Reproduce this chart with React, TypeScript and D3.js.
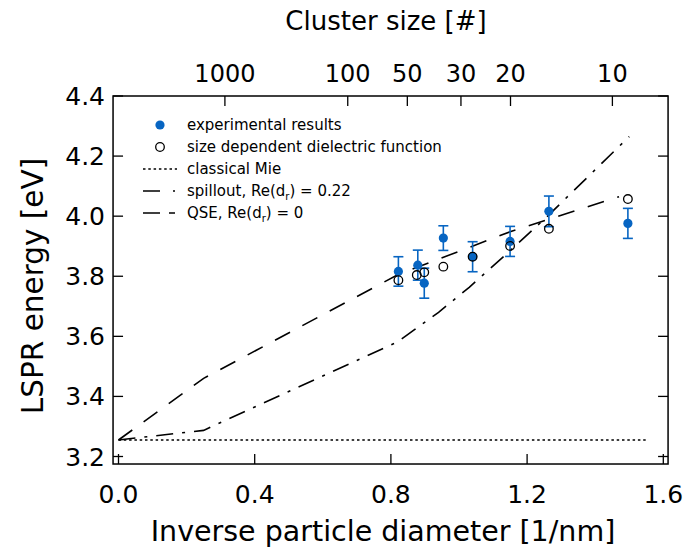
import React from 'react';
import * as d3 from 'd3';

// ---------- data ----------
const xTicks = [0, 0.4, 0.8, 1.2, 1.6];
const yTicks = [3.2, 3.4, 3.6, 3.8, 4.0, 4.2, 4.4];
const clusterTicks = [1000, 100, 50, 30, 20, 10];

const expX = [0.822, 0.879, 0.898, 0.954, 1.04, 1.15, 1.264, 1.496];
const expE = [3.816, 3.837, 3.777, 3.927, 3.865, 3.916, 4.016, 3.976];
const expErr = [0.049, 0.05, 0.05, 0.041, 0.05, 0.05, 0.051, 0.05];

const calcX = [0.822, 0.876, 0.898, 0.954, 1.04, 1.15, 1.264, 1.496];
const calcE = [3.787, 3.804, 3.813, 3.832, 3.865, 3.901, 3.958, 4.057];

const mieX = [0, 1.55];
const mieE = [3.255, 3.255];

const spillX = [0, 0.25, 0.82, 0.94, 1.03, 1.15, 1.26, 1.5];
const spillE = [3.255, 3.287, 3.582, 3.68, 3.763, 3.885, 4.0, 4.265];

const qseX = [0, 0.25, 0.82, 1.15, 1.47];
const qseE = [3.255, 3.46, 3.805, 3.948, 4.065];

const legendLabels = [
  'experimental results',
  'size dependent dielectric function',
  'classical Mie',
  'spillout, Re(d',
  'QSE, Re(d',
];

const BLUE = '#0765c2';
const FONT = '"DejaVu Sans", Verdana, sans-serif';

export default function App() {
  const W = 684, H = 557;
  const x = d3.scaleLinear().domain([0, 1.6]).range([118.5, 663.3]);
  const y = d3.scaleLinear().domain([3.2, 4.4]).range([456.5, 96]);
  const left = x(-0.016), right = x(1.614), top = y(4.4), bottom = y(3.175);
  const rWS = 0.16; // nm, Wigner-Seitz radius: d = 2 rWS N^(1/3)
  const nToX = (n: number) => 1 / (2 * rWS * Math.cbrt(n));
  const line = d3.line<[number, number]>().x(d => x(d[0])).y(d => y(d[1]));
  const zip = (a: number[], b: number[]) => a.map((v, i) => [v, b[i]] as [number, number]);
  const tl = 10;
  const fmt = d3.format('.1f');

  const legY = [125, 147, 169, 191, 213];
  const legX0 = 143, legTx = 187;

  return (
    <svg width={W} height={H} style={{ position: 'absolute', left: 0, top: 0, background: '#fff' }} fontFamily={FONT}>
      <rect x={0} y={0} width={W} height={H} fill="#fff" />
      {/* curves */}
      <path d={line(zip(mieX, mieE)) || ''} fill="none" stroke="#000" strokeWidth={1.5} strokeDasharray="2.5,2.8" />
      <path d={line(zip(spillX, spillE)) || ''} fill="none" stroke="#000" strokeWidth={1.6} strokeDasharray="17,9,3,9" />
      <path d={line(zip(qseX, qseE)) || ''} fill="none" stroke="#000" strokeWidth={1.6} strokeDasharray="17,14" />

      {/* error bars & experimental points */}
      {expX.map((v, i) => (
        <g key={'e' + i} stroke={BLUE} strokeWidth={1.6}>
          <line x1={x(v)} x2={x(v)} y1={y(expE[i] - expErr[i])} y2={y(expE[i] + expErr[i])} />
          <line x1={x(v) - 5} x2={x(v) + 5} y1={y(expE[i] - expErr[i])} y2={y(expE[i] - expErr[i])} />
          <line x1={x(v) - 5} x2={x(v) + 5} y1={y(expE[i] + expErr[i])} y2={y(expE[i] + expErr[i])} />
        </g>
      ))}
      {expX.map((v, i) => (
        <circle key={'p' + i} cx={x(v)} cy={y(expE[i])} r={4.6} fill={BLUE} stroke="none" />
      ))}
      {calcX.map((v, i) => (
        <circle key={'c' + i} cx={x(v)} cy={y(calcE[i])} r={4.3} fill="none" stroke="#000" strokeWidth={1.3} />
      ))}

      {/* frame */}
      <rect x={left} y={top} width={right - left} height={bottom - top} fill="none" stroke="#000" strokeWidth={1.5} />
      {yTicks.map(t => (
        <g key={'yt' + t} stroke="#000" strokeWidth={1.3}>
          <line x1={left} x2={left + tl} y1={y(t)} y2={y(t)} />
          <line x1={right} x2={right - tl} y1={y(t)} y2={y(t)} />
        </g>
      ))}
      {xTicks.map(t => (
        <line key={'xt' + t} x1={x(t)} x2={x(t)} y1={bottom} y2={bottom - tl} stroke="#000" strokeWidth={1.3} />
      ))}
      {clusterTicks.map(n => (
        <line key={'ct' + n} x1={x(nToX(n))} x2={x(nToX(n))} y1={top} y2={top + tl} stroke="#000" strokeWidth={1.3} />
      ))}

      {/* tick labels */}
      {yTicks.map(t => (
        <text key={'yl' + t} x={105} y={y(t) + 9} textAnchor="end" fontSize={25}>{fmt(t)}</text>
      ))}
      {xTicks.map(t => (
        <text key={'xl' + t} x={x(t)} y={503} textAnchor="middle" fontSize={25}>{fmt(t)}</text>
      ))}
      {clusterTicks.map(n => (
        <text key={'cl' + n} x={x(nToX(n))} y={82} textAnchor="middle" fontSize={24}>{n}</text>
      ))}

      {/* titles */}
      <text x={386} y={30} textAnchor="middle" fontSize={26}>Cluster size [#]</text>
      <text x={383} y={541} textAnchor="middle" fontSize={28.5}>Inverse particle diameter [1/nm]</text>
      <text transform={`translate(43,286) rotate(-90)`} textAnchor="middle" fontSize={29.5}>LSPR energy [eV]</text>

      {/* legend */}
      <circle cx={160} cy={legY[0]} r={4.6} fill={BLUE} />
      <circle cx={160} cy={legY[1]} r={4.3} fill="none" stroke="#000" strokeWidth={1.3} />
      <line x1={legX0} x2={177} y1={legY[2]} y2={legY[2]} stroke="#000" strokeWidth={1.5} strokeDasharray="2.5,2.8" />
      <line x1={legX0} x2={177} y1={legY[3]} y2={legY[3]} stroke="#000" strokeWidth={1.6} strokeDasharray="17,13,2,20" />
      <line x1={legX0} x2={175} y1={legY[4]} y2={legY[4]} stroke="#000" strokeWidth={1.6} strokeDasharray="17,9,6,20" />
      {legendLabels.map((s, i) => (
        <text key={'lg' + i} x={legTx} y={legY[i] + 5} fontSize={15}>
          {s}
          {i >= 3 && <tspan fontSize={10} dy={4}>r</tspan>}
          {i >= 3 && <tspan dy={-4}>{i === 3 ? ') = 0.22' : ') = 0'}</tspan>}
        </text>
      ))}
    </svg>
  );
}
